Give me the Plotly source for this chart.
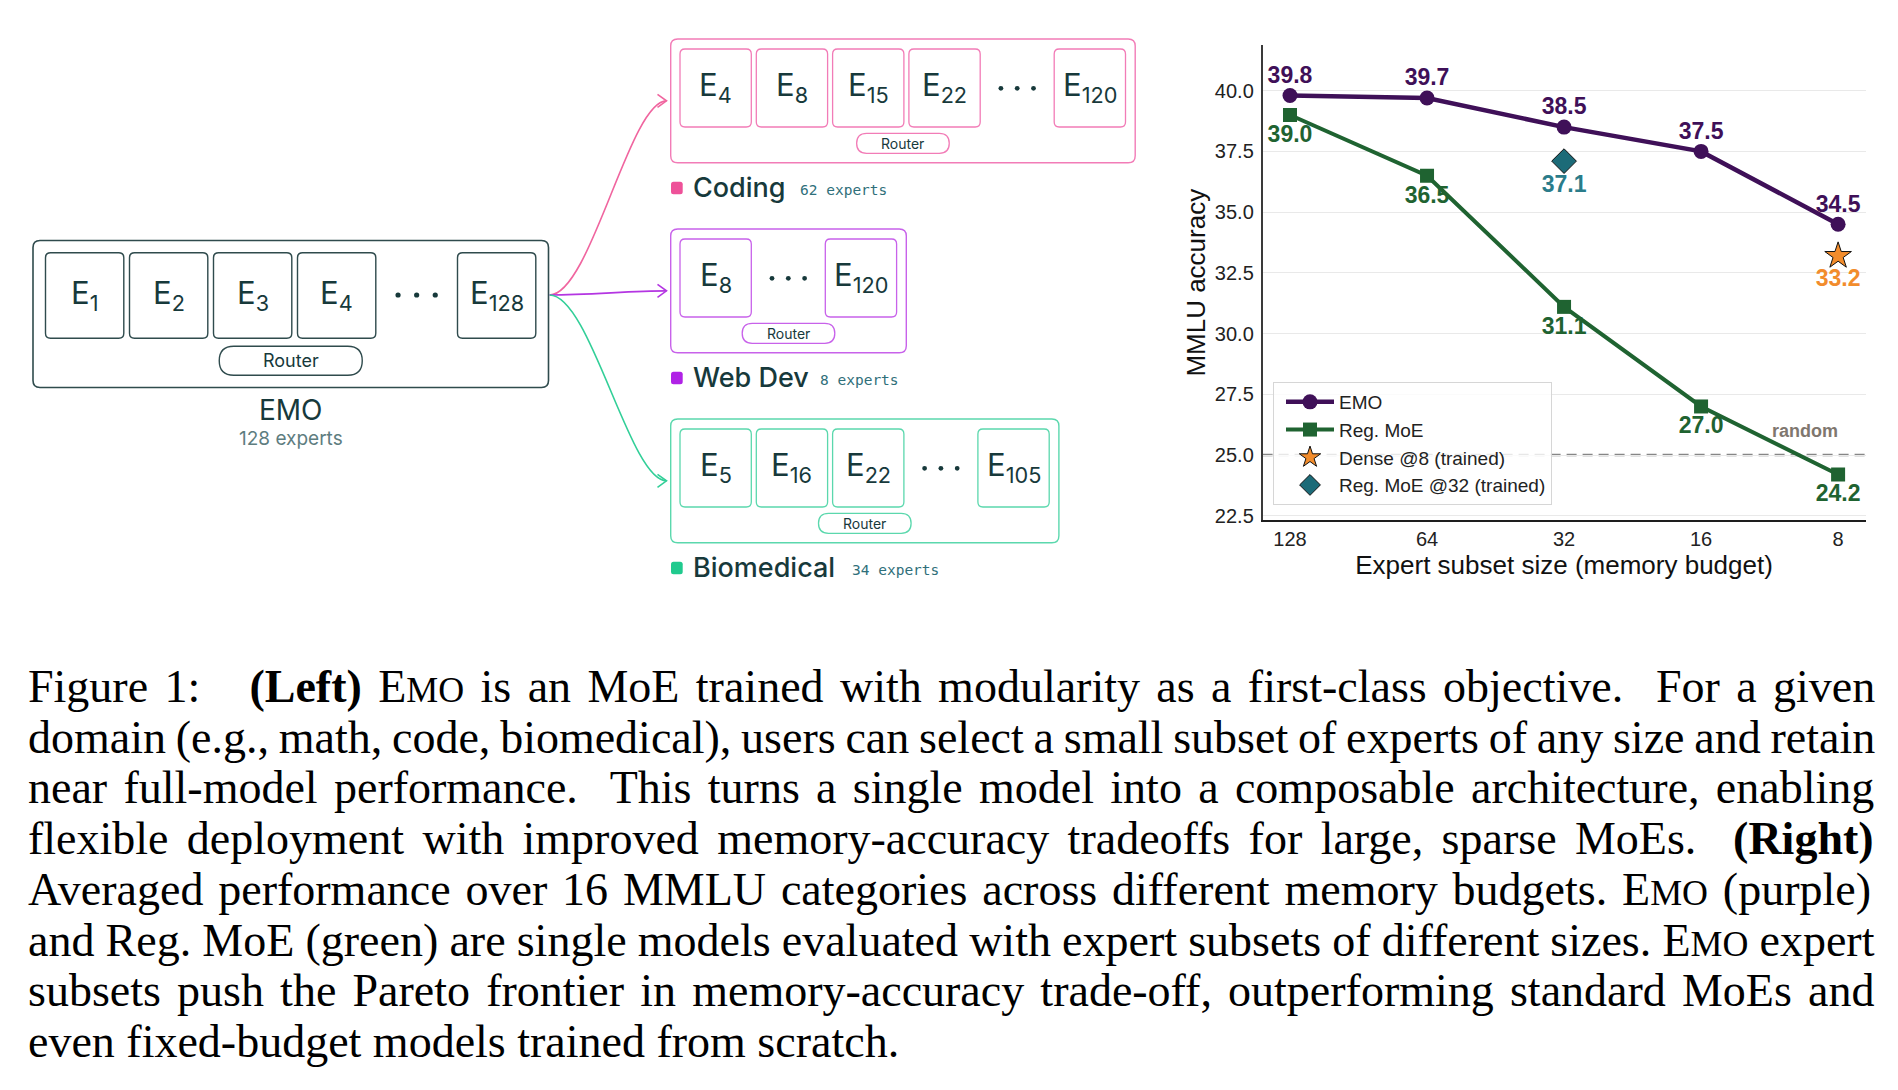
import plotly.graph_objects as go

W, H = 1898, 1090

# ---------------- chart data ----------------
subset_sizes = ["128", "64", "32", "16", "8"]
emo_acc = [39.8, 39.7, 38.5, 37.5, 34.5]
reg_moe_acc = [39.0, 36.5, 31.1, 27.0, 24.2]
dense_size = ["8"]
dense_acc = [33.2]
reg_moe32_size = ["32"]
reg_moe32_acc = [37.1]
random_acc = 25.0
y_tick_vals = [22.5, 25.0, 27.5, 30.0, 32.5, 35.0, 37.5, 40.0]
series_names = ["EMO", "Reg. MoE", "Dense @8 (trained)", "Reg. MoE @32 (trained)"]
x_title = "Expert subset size (memory budget)"
y_title = "MMLU accuracy"
random_label = "random"

# ---------------- diagram text ----------------
emo_expert_ids = ["1", "2", "3", "4", "128"]
emo_name = "EMO"
emo_count = "128 experts"
domain_names = ["Coding", "Web Dev", "Biomedical"]
domain_counts = ["62 experts", "8 experts", "34 experts"]
domain_expert_ids = [["4", "8", "15", "22", "120"], ["8", "120"], ["5", "16", "22", "105"]]
router_label = "Router"

# ---------------- caption text ----------------
caption_lines = [
    [("r", "Figure 1:\u00a0\u00a0 "), ("b", "(Left)"), ("r", " "), ("sc", "EMO"),
     ("r", " is an MoE trained with modularity as a first-class objective.\u00a0 For a given")],
    [("r", "domain (e.g., math, code, biomedical), users can select a small subset of experts of any size and retain")],
    [("r", "near full-model performance.\u00a0 This turns a single model into a composable architecture, enabling")],
    [("r", "flexible deployment with improved memory-accuracy tradeoffs for large, sparse MoEs.\u00a0 "), ("b", "(Right)")],
    [("r", "Averaged performance over 16 MMLU categories across different memory budgets. "), ("sc", "EMO"),
     ("r", " (purple)")],
    [("r", "and Reg. MoE (green) are single models evaluated with expert subsets of different sizes. "), ("sc", "EMO"),
     ("r", " expert")],
    [("r", "subsets push the Pareto frontier in memory-accuracy trade-off, outperforming standard MoEs and")],
    [("r", "even fixed-budget models trained from scratch.")],
]

# ---------------- styles ----------------
EMO_C = "#3f1058"
REG_C = "#1f6331"
TEAL = "#1c6b78"
TEAL_TXT = "#2a7c8a"
ORANGE = "#f28c2c"
DARK = "#17393b"
SLATE = "#2f4b4d"
SUB_GREY = "#5e7d7f"
MONO_C = "#2f6f7a"
dom_line = ["#f27cb7", "#c862ea", "#5bd8ad"]
dom_arrow = ["#f0659f", "#b436e2", "#32cf98"]
dom_square = ["#ee5199", "#b022e6", "#20ca8e"]

F_SANS = "Liberation Sans, Arial, sans-serif"
F_DIAG = "Inter, Roboto, sans-serif"
F_MONO = "DejaVu Sans Mono, Liberation Mono, monospace"
F_SERIF = "Liberation Serif, Times New Roman, serif"


def X(p):
    return p / W


def Y(p):
    return 1 - p / H


shapes = []
annotations = []


def rrect(x0, y0, x1, y1, r, color, width, fill="rgba(0,0,0,0)"):
    path = (f"M{X(x0 + r)},{Y(y0)} L{X(x1 - r)},{Y(y0)} Q{X(x1)},{Y(y0)} {X(x1)},{Y(y0 + r)} "
            f"L{X(x1)},{Y(y1 - r)} Q{X(x1)},{Y(y1)} {X(x1 - r)},{Y(y1)} "
            f"L{X(x0 + r)},{Y(y1)} Q{X(x0)},{Y(y1)} {X(x0)},{Y(y1 - r)} "
            f"L{X(x0)},{Y(y0 + r)} Q{X(x0)},{Y(y0)} {X(x0 + r)},{Y(y0)} Z")
    shapes.append(dict(type="path", path=path, xref="paper", yref="paper",
                       line=dict(color=color, width=width), fillcolor=fill, layer="above"))


def dot(cx, cy, r, color):
    shapes.append(dict(type="circle", xref="paper", yref="paper", x0=X(cx - r), x1=X(cx + r),
                       y0=Y(cy + r), y1=Y(cy - r), fillcolor=color, line=dict(width=0), layer="above"))


def label(x, y, text, size, color, family, xanchor="center", yanchor="middle", yshift=0, weight="normal"):
    annotations.append(dict(x=X(x), y=Y(y), xref="paper", yref="paper", text=text, showarrow=False,
                            font=dict(size=size, color=color, family=family, weight=weight),
                            xanchor=xanchor, yanchor=yanchor, yshift=yshift, borderpad=0))


# ---------------- EMO module (left) ----------------
emo_box = (33, 240.5, 548.5, 387.5)
rrect(*emo_box, 7, SLATE, 1.6)
ex0, ew, estep, egap = 45.5, 78.3, 84.0, 81.7
ey0, ey1 = 252.7, 338.3
n = len(emo_expert_ids)
for i, eid in enumerate(emo_expert_ids):
    if i < n - 1:
        bx = ex0 + i * estep
    else:
        bx = ex0 + (n - 2) * estep + ew + egap
    rrect(bx, ey0, bx + ew, ey1, 5, SLATE, 1.4)
    label(bx + ew / 2, (ey0 + ey1) / 2, f"E<sub>{eid}</sub>", 31, DARK, F_DIAG, yshift=1)
gap_l = ex0 + (n - 2) * estep + ew
gap_c = gap_l + egap / 2
for k in (-1, 0, 1):
    dot(gap_c + k * 18.6, 295, 2.6, DARK)
emo_cx = (emo_box[0] + emo_box[2]) / 2
rrect(emo_cx - 71.5, 346.3, emo_cx + 71.5, 375.3, 14.5, SLATE, 1.4)
label(emo_cx, 360.8, router_label, 18, DARK, F_DIAG)
label(emo_cx, 410, emo_name, 28, DARK, F_DIAG)
label(emo_cx, 438.5, emo_count, 19, SUB_GREY, F_DIAG)

# ---------------- domain modules ----------------
dom_tops = [39, 229, 419]
dom_h = 123.7
dx0, dw, dstep, dgap = 680.0, 71.3, 76.3, 74.0
count_x = [799.3, 819.3, 851.0]
arrow_start = (549.5, 295.0)
arrow_tip_x = 666.5
for d, name in enumerate(domain_names):
    top = dom_tops[d]
    ids = domain_expert_ids[d]
    m = len(ids)
    col = dom_line[d]
    prev_right = dx0 + (m - 2) * dstep + dw
    last_left = prev_right + dgap
    outer_r = last_left + dw + 9.7
    rrect(670.7, top, outer_r, top + dom_h, 7, col, 1.4)
    for i, eid in enumerate(ids):
        bx = dx0 + i * dstep if i < m - 1 else last_left
        rrect(bx, top + 10, bx + dw, top + 88, 5, col, 1.3)
        label(bx + dw / 2, top + 49, f"E<sub>{eid}</sub>", 31, DARK, F_DIAG, yshift=1)
    gc = (prev_right + last_left) / 2
    for k in (-1, 0, 1):
        dot(gc + k * 16.3, top + 49.3, 2.4, DARK)
    cx = (670.7 + outer_r) / 2
    rrect(cx - 46.3, top + 94.3, cx + 46.3, top + 114.3, 10, col, 1.3)
    label(cx, top + 104.3, router_label, 14, DARK, F_DIAG)
    # legend square + name + count
    sy = top + dom_h
    rrect(671, sy + 19, 682.7, sy + 31.6, 2.5, dom_square[d], 0, fill=dom_square[d])
    label(692.3, sy + 25, name, 27, DARK, F_DIAG, xanchor="left", weight=500)
    label(count_x[d], sy + 27, domain_counts[d], 14.5, MONO_C, F_MONO, xanchor="left")
    # arrow
    ey = top + dom_h / 2
    sx, sy0 = arrow_start
    p = (f"M{X(sx)},{Y(sy0)} C{X(sx + 41)},{Y(sy0)} {X(arrow_tip_x - 37)},{Y(ey)} "
         f"{X(arrow_tip_x)},{Y(ey)}")
    shapes.append(dict(type="path", path=p, xref="paper", yref="paper",
                       line=dict(color=dom_arrow[d], width=1.6), layer="above"))
    h = (f"M{X(arrow_tip_x - 9)},{Y(ey - 6.5)} L{X(arrow_tip_x)},{Y(ey)} "
         f"L{X(arrow_tip_x - 9)},{Y(ey + 6.5)}")
    shapes.append(dict(type="path", path=h, xref="paper", yref="paper",
                       line=dict(color=dom_arrow[d], width=1.6), layer="above"))

# ---------------- caption ----------------
TNR = {' ': 250, '\u00a0': 250, '(': 333, ')': 333, ',': 250, '-': 333, '.': 250, ':': 278, '@': 921,
       'A': 722, 'B': 667, 'C': 667, 'D': 722, 'E': 611, 'F': 556, 'G': 722, 'H': 722, 'I': 333,
       'J': 389, 'K': 722, 'L': 611, 'M': 889, 'N': 722, 'O': 722, 'P': 556, 'Q': 722, 'R': 667,
       'S': 556, 'T': 611, 'U': 722, 'V': 722, 'W': 944, 'X': 722, 'Y': 722, 'Z': 611,
       'a': 444, 'b': 500, 'c': 444, 'd': 500, 'e': 444, 'f': 333, 'g': 500, 'h': 500, 'i': 278,
       'j': 278, 'k': 500, 'l': 278, 'm': 778, 'n': 500, 'o': 500, 'p': 500, 'q': 500, 'r': 333,
       's': 389, 't': 278, 'u': 500, 'v': 500, 'w': 722, 'x': 500, 'y': 500, 'z': 444}
TNR_B = {'(': 333, ')': 333, 'L': 667, 'R': 722, 'e': 444, 'f': 333, 't': 333, 'i': 278, 'g': 500, 'h': 556}
CAP_F = 46.0
SC_F = CAP_F * 0.78
CAP_LEFT, CAP_RIGHT = 26.6, 1874.0
CAP_Y0, CAP_DY = 686.4, 50.75


def seg_width(kind, s):
    w = 0.0
    for j, ch in enumerate(s):
        if kind == "b":
            w += TNR_B.get(ch, TNR.get(ch, 500)) * CAP_F / 1000
        elif kind == "sc":
            w += TNR.get(ch, 600) * (CAP_F if j == 0 else SC_F) / 1000
        else:
            w += TNR.get(ch, 500) * CAP_F / 1000
    return w


def seg_html(kind, s):
    if kind == "b":
        return f"<b>{s}</b>"
    if kind == "sc":
        return f"{s[0]}<span style='font-size:{SC_F:.1f}px'>{s[1:]}</span>"
    return s


for li, line in enumerate(caption_lines):
    nat = sum(seg_width(k, s) for k, s in line)
    nsp = sum(s.count(' ') + s.count('\u00a0') for _, s in line)
    ws = 0.0 if li == len(caption_lines) - 1 else (CAP_RIGHT - CAP_LEFT - nat) / nsp
    inner = "".join(seg_html(k, s) for k, s in line)
    txt = f"<span style='word-spacing:{ws:.2f}px'>{inner}</span>"
    label(CAP_LEFT, CAP_Y0 + li * CAP_DY, txt, CAP_F, "#000", F_SERIF, xanchor="left")

# ---------------- chart ----------------
fig = go.Figure()
# value labels first, so the lines pass over them
fig.add_trace(go.Scatter(x=subset_sizes, y=emo_acc, mode="markers+text",
                         text=[f"{v:.1f}" for v in emo_acc], textposition="top center",
                         marker=dict(size=9.6, opacity=0),
                         textfont=dict(size=23, color=EMO_C, family=F_SANS, weight="bold"),
                         showlegend=False, hoverinfo="skip"))
fig.add_trace(go.Scatter(x=subset_sizes, y=reg_moe_acc, mode="markers+text",
                         text=[f"{v:.1f}" for v in reg_moe_acc], textposition="bottom center",
                         marker=dict(size=13.8, opacity=0),
                         textfont=dict(size=23, color=REG_C, family=F_SANS, weight="bold"),
                         showlegend=False, hoverinfo="skip"))
fig.add_trace(go.Scatter(x=reg_moe32_size, y=reg_moe32_acc, mode="markers+text",
                         text=[f"{v:.1f}" for v in reg_moe32_acc], textposition="bottom center",
                         marker=dict(size=20, opacity=0),
                         textfont=dict(size=23, color=TEAL_TXT, family=F_SANS, weight="bold"),
                         showlegend=False, hoverinfo="skip"))
fig.add_trace(go.Scatter(x=dense_size, y=dense_acc, mode="markers+text",
                         text=[f"{v:.1f}" for v in dense_acc], textposition="bottom center",
                         marker=dict(size=19.2, opacity=0),
                         textfont=dict(size=23, color=ORANGE, family=F_SANS, weight="bold"),
                         showlegend=False, hoverinfo="skip"))

fig.add_trace(go.Scatter(x=subset_sizes, y=emo_acc, mode="lines+markers", name=series_names[0],
                         line=dict(color=EMO_C, width=4.5),
                         marker=dict(symbol="circle", size=15, color=EMO_C)))
fig.add_trace(go.Scatter(x=subset_sizes, y=reg_moe_acc, mode="lines+markers", name=series_names[1],
                         line=dict(color=REG_C, width=4),
                         marker=dict(symbol="square", size=14, color=REG_C)))
fig.add_trace(go.Scatter(x=dense_size, y=dense_acc, mode="markers", name=series_names[2],
                         marker=dict(symbol="star", size=20, color=ORANGE, line=dict(color="#111", width=1))))
fig.add_trace(go.Scatter(x=reg_moe32_size, y=reg_moe32_acc, mode="markers", name=series_names[3],
                         marker=dict(symbol="diamond", size=19, color=TEAL, line=dict(color="#111", width=1))))

shapes.append(dict(type="line", xref="x domain", x0=0, x1=1, yref="y", y0=random_acc, y1=random_acc,
                   line=dict(color="#868686", width=2.4, dash="10px,6px"), layer="below"))
annotations.append(dict(x=len(subset_sizes) - 1, y=random_acc, xref="x", yref="y", text=random_label,
                        showarrow=False, xanchor="right", yanchor="middle", yshift=24, xshift=2,
                        font=dict(size=18, color="#7f776f", family=F_SANS, weight="bold")))

tick_font = dict(size=20, color="#222", family=F_SANS)
title_font = dict(size=26, color="#111", family=F_SANS)
fig.update_layout(
    width=W, height=H,
    margin=dict(l=0, r=0, t=0, b=0, autoexpand=False),
    paper_bgcolor="white", plot_bgcolor="white",
    xaxis=dict(domain=[X(1262.6), X(1865.5)], type="category", categoryorder="array",
               categoryarray=subset_sizes, range=[-0.2, 4.2], showgrid=False, zeroline=False,
               showline=True, linecolor="#1e1e1e", linewidth=1.6, ticks="",
               tickfont=tick_font,
               title=dict(text=x_title, font=title_font, standoff=1)),
    yaxis=dict(domain=[Y(520.4), Y(45)], range=[22.31, 41.88], tickvals=y_tick_vals,
               ticktext=[f"{v:.1f}" for v in y_tick_vals], showgrid=True, gridcolor="#e9e9e9",
               gridwidth=1, zeroline=False, showline=True, linecolor="#3a3a3a", linewidth=1.6,
               ticks="outside", ticklen=3, tickcolor="rgba(0,0,0,0)", tickfont=tick_font,
               title=dict(text=y_title, font=title_font, standoff=2)),
    legend=dict(x=X(1273), y=Y(382), xanchor="left", yanchor="top",
                bgcolor="rgba(255,255,255,0.8)", bordercolor="#d6d6d6", borderwidth=1,
                font=dict(size=19, color="#222", family=F_SANS), itemwidth=48, indentation=7,
                tracegroupgap=0),
    shapes=shapes, annotations=annotations,
    showlegend=True,
)

fig.write_html("out.html", config={"displayModeBar": False},
               post_script="document.body.style.margin='0';document.body.style.overflow='hidden';")
